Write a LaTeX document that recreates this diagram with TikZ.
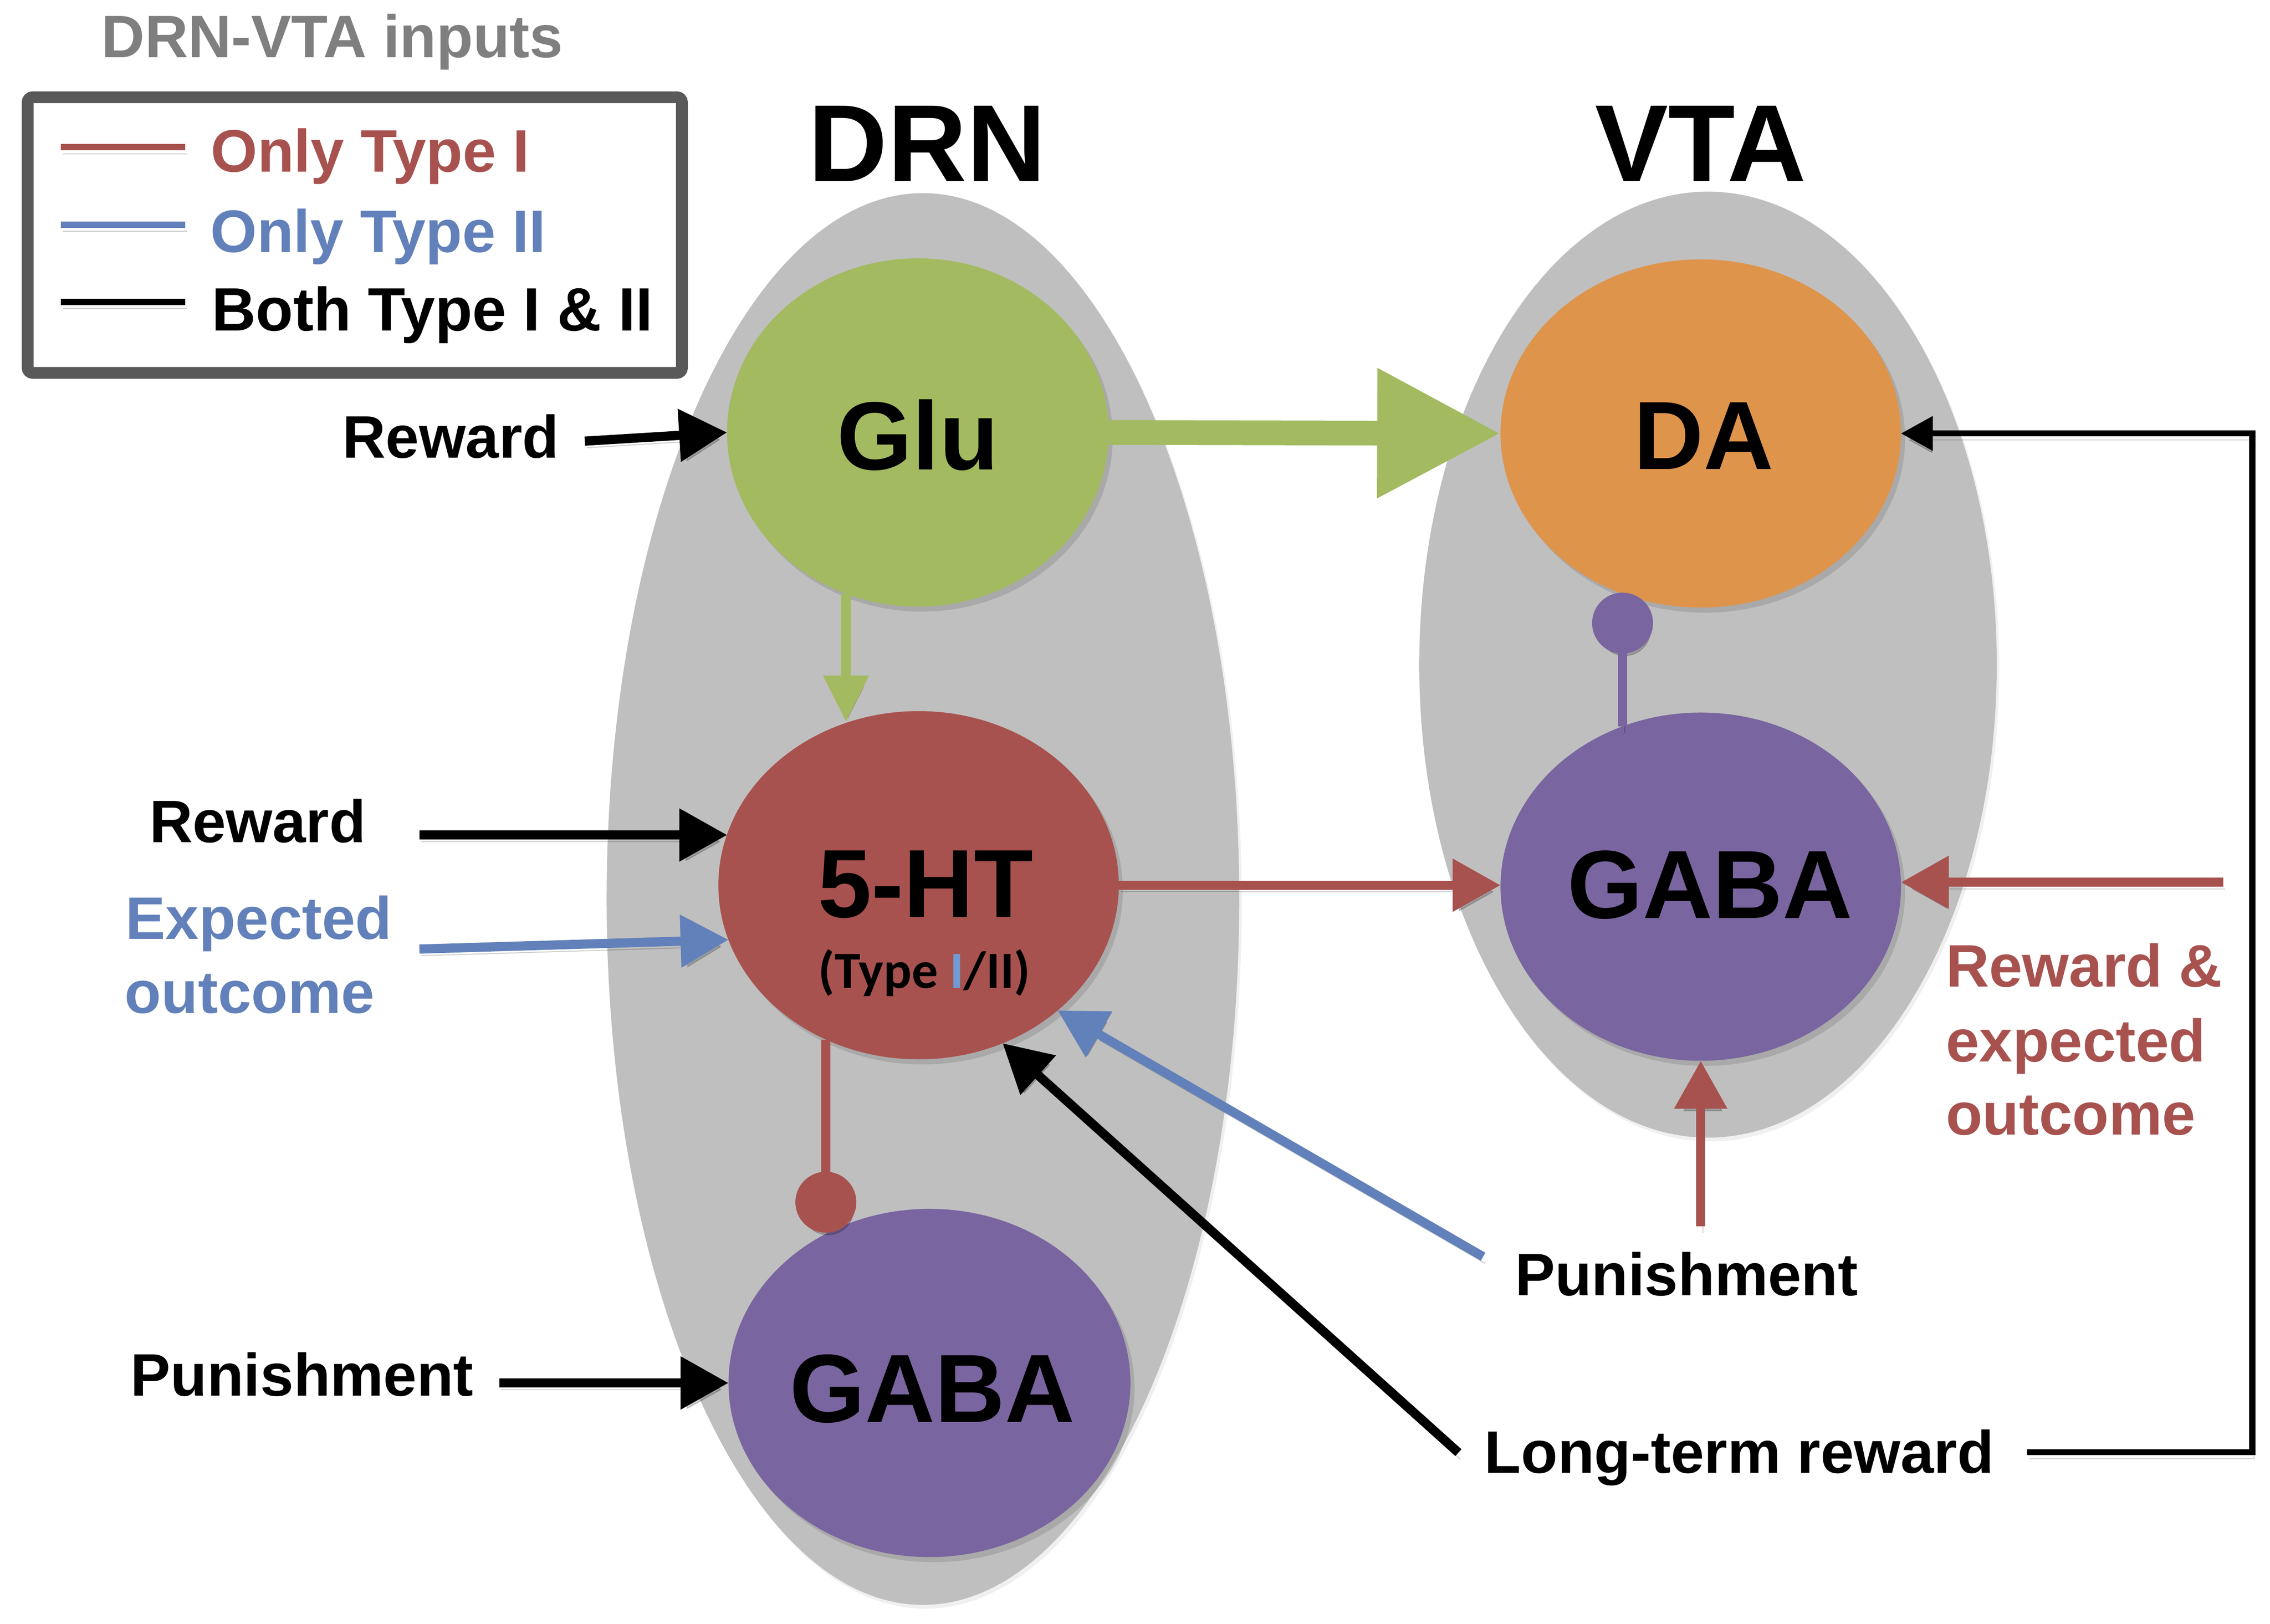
\documentclass[tikz,border=0pt]{standalone}
\usepackage{fontspec}
\setmainfont{Liberation Sans}
\newfontfamily\calibri{Carlito}
\usetikzlibrary{arrows.meta,shapes.geometric,shadows}
\definecolor{bggray}{HTML}{BFBFBF}
\definecolor{glugreen}{HTML}{A3BA60}
\definecolor{htred}{HTML}{A8524F}
\definecolor{gabapurple}{HTML}{7965A0}
\definecolor{daorange}{HTML}{DF944B}
\definecolor{typeblue}{HTML}{6281BA}
\definecolor{lightblue}{HTML}{709BD6}
\definecolor{legendborder}{HTML}{595959}
\definecolor{titlegray}{HTML}{7F7F7F}
\begin{document}
\begin{tikzpicture}[x=0.02cm,y=-0.02cm,
  lbl/.style={font=\fontsize{23.5pt}{28pt}\selectfont\bfseries, inner sep=0pt, outer sep=0pt, anchor=base west},
  region/.style={font=\fontsize{43pt}{48pt}\selectfont\bfseries, inner sep=0pt, anchor=base},
  nlabel/.style={font=\fontsize{38pt}{44pt}\selectfont\bfseries, inner sep=0pt, anchor=base},
  cell/.style={ellipse, inner sep=0pt, outer sep=0pt, minimum width=5.52cm, minimum height=4.8cm,
    drop shadow={shadow xshift=1.6pt, shadow yshift=-2pt, opacity=0.35}},
  bgcell/.style={ellipse, inner sep=0pt, outer sep=0pt, fill=bggray,
    drop shadow={shadow xshift=1pt, shadow yshift=-1.5pt, opacity=0.12}},
  shd/.style={preaction={draw=black, opacity=0.18, transform canvas={xshift=0.8pt, yshift=-2.6pt}}},
  conn/.style={line width=3.6pt, -{Triangle[length=0.66cm,width=0.7cm]}, shd},
  inh/.style={line width=3.6pt, -{Circle[length=0.84cm]}, shd},
  thinconn/.style={line width=2.4pt, black, line join=miter, -{Triangle[length=0.44cm,width=0.46cm]}, shd},
  bigarrow/.style={line width=9.7pt, glugreen, -{Triangle[length=1.7cm,width=1.7cm]}, shd},
  legline/.style={line width=2.5pt, shd}
]
\useasboundingbox (0,0) rectangle (1564.3,1118.9);

% legend
\node[lbl, text=titlegray] (title) at (70,39.5) {DRN-VTA inputs};
\node[draw=legendborder, line width=4.6pt, rounded corners=2pt, inner sep=0pt, minimum width=9.02cm, minimum height=3.8cm, fill=white] (legend) at (244.5,162) {};
\draw[legline, htred] (42,101.5) -- (127.5,101.5);
\draw[legline, typeblue] (42,154.8) -- (127.5,154.8);
\draw[legline, black] (42,208) -- (127.5,208);
\node[lbl, text=htred] (l1) at (145.3,118.3) {Only Type I};
\node[lbl, text=typeblue] (l2) at (145,173.8) {Only Type II};
\node[lbl, font=\fontsize{24pt}{28pt}\selectfont\bfseries] (l3) at (146,227.9) {Both Type I \& II};

% regions
\node[bgcell, minimum width=8.72cm, minimum height=19.46cm] (drn) at (636,619.5) {};
\node[bgcell, minimum width=7.96cm, minimum height=13.04cm] (vta) at (1177,458) {};
\node[region] (drnt) at (639,125) {DRN};
\node[region] (vtat) at (1172,125) {VTA};

% cells
\node[cell, fill=glugreen, minimum width=5.26cm] (glu) at (632.5,298) {};
\node[cell, fill=htred] (ht) at (633,610) {};
\node[cell, fill=gabapurple, minimum width=5.54cm] (gd) at (640.5,953) {};
\node[cell, fill=daorange] (da) at (1172,298.7) {};
\node[cell, fill=gabapurple] (gv) at (1172,611) {};

\node[nlabel] (glut) at (632.5,323.5) {Glu};
\node[nlabel] (htt) at (637.7,632) {5-HT};
\node[font=\fontsize{20.5pt}{24pt}\selectfont\calibri\bfseries, inner sep=0pt, anchor=base] (htsub) at (637,681) {(Type {\color{lightblue}I}/II)};
\node[nlabel] (gdt) at (642.5,980) {GABA};
\node[nlabel] (dat) at (1174,323.3) {DA};
\node[nlabel] (gvt) at (1178.4,632.6) {GABA};

% input labels
\node[lbl] (rew1) at (236,315.6) {Reward};
\node[lbl] (rew2) at (103,580.6) {Reward};
\node[lbl, text=typeblue] (exp1) at (86.6,647) {Expected};
\node[lbl, text=typeblue] (exp2) at (86,698) {outcome};
\node[lbl] (pun1) at (90,962) {Punishment};
\node[lbl] (pun2) at (1044,892.7) {Punishment};
\node[lbl] (ltr) at (1023,1015) {Long-term reward};
\node[lbl, text=htred] (rex1) at (1341,680) {Reward \&};
\node[lbl, text=htred] (rex2) at (1341,731.6) {expected};
\node[lbl, text=htred] (rex3) at (1341,782) {outcome};

% free connector ends
\coordinate (r1s) at (403,304);
\coordinate (r2s) at (289,575.4);
\coordinate (es) at (289,654);
\coordinate (p1s) at (344,953);
\coordinate (p2a) at (1172,845);
\coordinate (p2b) at (1022,866);
\coordinate (lta) at (1005,1001);
\coordinate (ltb) at (1397,1000.6);
\coordinate (ltc) at (1552,1000.6);
\coordinate (rxs) at (1532,608);

% connectors
\draw[bigarrow] (glu.east) -- (da.west);
\draw[line width=3.75pt, glugreen, shd, -{Triangle[length=0.64cm,width=0.6cm]}] (glu.246.75) -- (glu.246.75 |- ht.113.3);
\draw[conn, black] (r1s) -- (glu.west);
\draw[conn, black] (r2s) -- (r2s -| ht.165.3);
\draw[conn, typeblue] (es) -- (ht.196.4);
\draw[conn, black] (p1s) -- (gd.west);
\draw[conn, htred] (ht.east) -- (ht.east -| gv.west);
\draw[conn, htred] (p2a) -- (gv.south);
\draw[conn, htred] (rxs) -- (rxs -| gv.east);
\draw[conn, typeblue] (p2b) -- (ht.318.6);
\draw[conn, black] (lta) -- (ht.298.2);
\draw[thinconn] (ltb) -- (ltc) |- (da.east);
\draw[inh, htred] (ht.239.5) -- (ht.239.5 |- gd.124.3);
\draw[inh, gabapurple] (gv.116.6) -- (gv.116.6 |- da.243.4);
\end{tikzpicture}
\end{document}
